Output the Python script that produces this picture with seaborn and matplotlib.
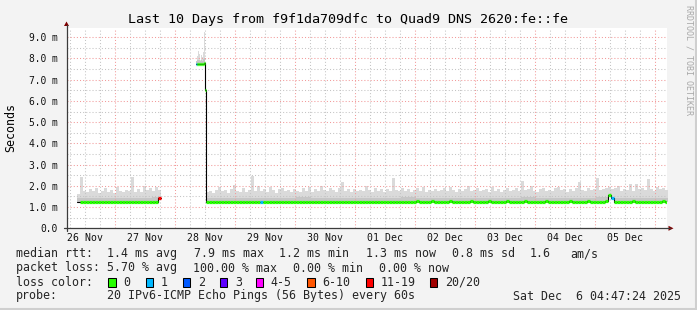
import numpy as np
import pandas as pd
import matplotlib
matplotlib.use("Agg")
import matplotlib.pyplot as plt
import seaborn as sns
from matplotlib.patches import Rectangle, Polygon
from matplotlib.lines import Line2D
from matplotlib.transforms import Affine2D

# ---------------- data ----------------
TITLE = "Last 10 Days from f9f1da709dfc to Quad9 DNS 2620:fe::fe"
Y_LABEL = "Seconds"
WATERMARK = "RRDTOOL / TOBI OETIKER"
RANGE_HOURS = 240.0                     # 10 days, start = Nov 26 04:47:24
FIRST_MIDNIGHT_H = 19.21                # hours from start to Nov 27 00:00
DAY_LABELS = ["26 Nov", "27 Nov", "28 Nov", "29 Nov", "30 Nov",
              "01 Dec", "02 Dec", "03 Dec", "04 Dec", "05 Dec"]
Y_TICKS = [0, 1, 2, 3, 4, 5, 6, 7, 8, 9]
Y_TICK_LABELS = ["0.0", "1.0 m", "2.0 m", "3.0 m", "4.0 m",
                 "5.0 m", "6.0 m", "7.0 m", "8.0 m", "9.0 m"]
Y_MAX = 9.46

LOSS_NAMES = ["0", "1", "2", "3", "4-5", "6-10", "11-19", "20/20"]
LOSS_COLORS = ["#26ff00", "#00b8ff", "#0059ff", "#5e00ff",
               "#ff00ff", "#ff5500", "#ff0000", "#a00000"]

# segment 1 : Nov 26 09:00 -> Nov 27 10:00 (bins of 1.2 h)
seg1_start, seg1_bin = 4.2, 1.2
seg1_median = [1.25, 1.25, 1.25, 1.25, 1.25, 1.25, 1.25, 1.25, 1.25, 1.25,
               1.25, 1.25, 1.25, 1.25, 1.25, 1.25, 1.25, 1.25, 1.25, 1.25,
               1.25, 1.25, 1.25, 1.25, 1.25, 1.25, 1.25, 1.45]
seg1_top = [1.62, 2.43, 1.75, 1.70, 1.85, 1.78, 1.92, 1.68, 1.74, 1.88,
            1.72, 1.80, 1.66, 1.95, 1.78, 1.70, 1.82, 1.76, 2.43, 1.73,
            1.86, 1.70, 1.98, 1.80, 1.90, 1.75, 1.94, 1.82]
seg1_loss = [-1, 0, 0, 0, 0, 0, 0, 0, 0, 0, 0, 0, 0, 0,
             0, 0, 0, 0, 0, 0, 0, 0, 0, 0, 0, 0, 0, 6]
seg1_dark_6h = [1.42, 1.44, 1.41, 1.43, 1.45, 1.46]

# segment 2 : the 7.7 ms episode on Nov 28 (bins of 0.4 h)
seg2_start, seg2_bin = 51.6, 0.4
seg2_median = [7.72, 7.72, 7.74, 7.73, 7.73, 7.75, 7.72, 7.76, 7.80, 6.52]
seg2_top = [7.80, 8.10, 8.36, 8.22, 7.95, 8.18, 8.05, 8.30, 9.24, 6.52]
seg2_dark = [7.88, 7.92, 7.95, 7.94, 7.90, 7.93, 7.90, 7.96, 8.00, 6.52]
seg2_loss = [1, 0, 0, 0, 0, 0, 0, 0, 0, 0]

# segment 3 : Nov 28 -> Dec 6 (bins of 1.2 h)
seg3_start, seg3_bin = 55.6, 1.2
seg3_median = [
    1.25, 1.25, 1.25, 1.25, 1.25, 1.25, 1.25, 1.25, 1.25, 1.25,
    1.25, 1.25, 1.25, 1.25, 1.25, 1.25, 1.25, 1.25, 1.25, 1.25,
    1.25, 1.25, 1.25, 1.25, 1.25, 1.25, 1.25, 1.25, 1.25, 1.25,
    1.25, 1.25, 1.25, 1.25, 1.25, 1.25, 1.25, 1.25, 1.25, 1.25,
    1.25, 1.25, 1.25, 1.25, 1.25, 1.25, 1.25, 1.25, 1.25, 1.25,
    1.25, 1.25, 1.25, 1.25, 1.25, 1.25, 1.25, 1.25, 1.25, 1.25,
    1.25, 1.25, 1.25, 1.25, 1.25, 1.24, 1.26, 1.25, 1.23, 1.26,
    1.27, 1.25, 1.24, 1.26, 1.25, 1.27, 1.24, 1.25, 1.26, 1.23,
    1.25, 1.27, 1.26, 1.24, 1.25, 1.23, 1.26, 1.25, 1.27, 1.24,
    1.25, 1.26, 1.23, 1.25, 1.27, 1.26, 1.24, 1.25, 1.26, 1.24,
    1.27, 1.25, 1.23, 1.26, 1.25, 1.24, 1.27, 1.25, 1.26, 1.23,
    1.25, 1.26, 1.24, 1.27, 1.25, 1.23, 1.26, 1.25, 1.24, 1.26,
    1.25, 1.27, 1.24, 1.25, 1.26, 1.23, 1.25, 1.27, 1.25, 1.24,
    1.26, 1.25, 1.24, 1.27, 1.57, 1.45, 1.26, 1.24, 1.25, 1.26,
    1.23, 1.25, 1.27, 1.24, 1.26, 1.25, 1.23, 1.26, 1.25, 1.24,
    1.26, 1.25, 1.27, 1.25]
seg3_top = [
    1.70, 1.78, 1.66, 1.82, 1.96, 1.74, 1.80, 1.68, 1.85, 2.04,
    1.76, 1.72, 1.88, 1.70, 1.82, 2.48, 1.75, 2.00, 1.78, 1.86,
    1.72, 1.95, 1.80, 1.68, 1.84, 1.90, 1.74, 1.82, 1.70, 1.86,
    1.78, 1.72, 1.88, 1.76, 1.95, 1.70, 1.84, 1.78, 2.00, 1.82,
    1.74, 1.88, 1.80, 1.72, 1.92, 2.20, 1.78, 1.84, 1.70, 1.86,
    1.76, 1.82, 1.74, 2.00, 1.80, 1.72, 1.88, 1.78, 1.84, 1.70,
    1.86, 1.78, 2.36, 1.82, 1.74, 1.90, 1.76, 1.84, 1.72, 1.80,
    1.88, 1.76, 1.95, 1.70, 1.82, 1.78, 1.86, 1.74, 1.80, 1.90,
    1.76, 1.95, 1.82, 1.72, 1.86, 1.78, 1.84, 2.00, 1.76, 1.82,
    1.88, 1.74, 1.80, 1.86, 1.72, 1.95, 1.78, 1.84, 1.70, 1.82,
    1.88, 1.76, 1.82, 1.92, 1.74, 2.22, 1.80, 1.86, 2.00, 1.78,
    1.72, 1.84, 1.90, 1.76, 1.82, 1.74, 1.88, 1.95, 1.80, 1.86,
    1.72, 1.84, 1.78, 1.90, 2.20, 1.82, 1.76, 1.88, 1.80, 1.84,
    2.36, 1.80, 1.86, 1.92, 1.95, 1.84, 1.90, 2.00, 1.78, 1.86,
    1.82, 2.07, 1.76, 2.10, 1.84, 1.90, 1.80, 2.30, 1.86, 1.78,
    1.96, 1.84, 1.90, 1.80]
seg3_loss_exceptions = {18: 1, 135: 1}
seg3_dark_6h = [1.42, 1.44, 1.41, 1.45, 1.43, 1.42, 1.46, 1.44, 1.41, 1.43,
                1.45, 1.44, 1.42, 1.46, 1.43, 1.44, 1.41, 1.45, 1.43, 1.42,
                1.44, 1.46, 1.43, 1.45, 1.42, 1.44, 1.47, 1.45, 1.43, 1.44,
                1.42]

LEGEND_RTT = [("median rtt:", 16), ("1.4 ms avg", 107.3), ("7.9 ms max", 194.3),
              ("1.2 ms min", 279.3), ("1.3 ms now", 365.7), ("0.8 ms sd", 451.7),
              ("1.6", 529.8), ("am/s", 570)]
LEGEND_LOSS = [("packet loss:", 16), ("5.70 % avg", 107.3), ("100.00 % max", 193.3),
               ("0.00 % min", 293.3), ("0.00 % now", 379.3)]
LOSS_BOX_X = [108.3, 145.7, 183.0, 219.7, 256.0, 307.3, 365.7, 430.0]
LOSS_TEXT_X = [123.3, 161.0, 197.7, 235.0, 270.7, 322.3, 380.7, 445.0]
PROBE_TEXT = "20 IPv6-ICMP Echo Pings (56 Bytes) every 60s"
DATE_TEXT = "Sat Dec  6 04:47:24 2025"

# ---------------- style ----------------
sns.set_theme(style="white")
plt.rcParams['font.family'] = ['DejaVu Sans Mono', 'DejaVu Sans']

W, H = 697, 310
BG = "#f3f3f3"
fig = plt.figure(figsize=(W / 100, H / 100), dpi=100, facecolor=BG)
PX = Affine2D().scale(1.0 / W, -1.0 / H).translate(0, 1) + fig.transFigure

X0, X1, YB, YT = 66.7, 666.7, 228.3, 27.5
ax = fig.add_axes([X0 / W, (H - YB) / H, (X1 - X0) / W, (YB - YT) / H])
ax.set_facecolor("white")
ax.set_xlim(0, RANGE_HOURS)
ax.set_ylim(0, Y_MAX)
for s in ax.spines.values():
    s.set_visible(False)

SMOKE_LIGHT = "#dadada"
SMOKE_DARK = "#c6c6c6"


def edges_of(start, width, n):
    return start + width * np.arange(n + 1)


def smoke(start, width, median, top, dark):
    med = np.asarray(median, float)
    e = edges_of(start, width, len(med))
    ax.fill_between(e, np.r_[med, med[-1]], np.r_[top, top[-1]], step="post",
                    color=SMOKE_LIGHT, lw=0, zorder=1)
    ax.fill_between(e, np.r_[med, med[-1]], np.r_[dark, dark[-1]], step="post",
                    color=SMOKE_DARK, lw=0, zorder=1.5)


seg1_dark = np.repeat(seg1_dark_6h, 5)[:len(seg1_median)]
seg3_dark = np.repeat(seg3_dark_6h, 5)[:len(seg3_median)]
seg3_loss = [seg3_loss_exceptions.get(i, 0) for i in range(len(seg3_median))]

smoke(seg1_start, seg1_bin, seg1_median, seg1_top, seg1_dark)
smoke(seg2_start, seg2_bin, seg2_median, seg2_top, seg2_dark)
smoke(seg3_start, seg3_bin, seg3_median, seg3_top, seg3_dark)

# ---------------- grid ----------------
DOT = (0, (1, 2))
MINOR_C, MAJOR_C = "#c4c4c4", "#f29a9a"
for k in range(40):
    h = FIRST_MIDNIGHT_H - 18 + 6 * k
    if 0 < h < RANGE_HOURS:
        major = abs(((h - FIRST_MIDNIGHT_H) / 24) - round((h - FIRST_MIDNIGHT_H) / 24)) < 1e-6
        ax.axvline(h, color=MAJOR_C if major else MINOR_C, lw=0.75, ls=DOT, zorder=2)
for k in range(1, 19):
    v = 0.5 * k
    major = (k % 2 == 0)
    ax.axhline(v, color=MAJOR_C if major else MINOR_C, lw=0.75, ls=DOT, zorder=2)

# ---------------- median lines ----------------
def median_frame(parts):
    xs, ys = [], []
    for start, width, med in parts:
        e = edges_of(start, width, len(med))
        xs.extend(e[:-1])
        ys.extend(med)
    xs.append(e[-1])
    ys.append(med[-1])
    return pd.DataFrame({"hour": xs, "rtt": ys})


for parts in ([(seg1_start, seg1_bin, seg1_median)],
              [(seg2_start, seg2_bin, seg2_median), (seg3_start, seg3_bin, seg3_median)]):
    df = median_frame(parts)
    sns.lineplot(data=df, x="hour", y="rtt", ax=ax, estimator=None, sort=False,
                 drawstyle="steps-post", color="black", lw=0.8, legend=False, zorder=3)

for start, width, med, loss in ((seg1_start, seg1_bin, seg1_median, seg1_loss),
                                (seg2_start, seg2_bin, seg2_median, seg2_loss),
                                (seg3_start, seg3_bin, seg3_median, seg3_loss)):
    e = edges_of(start, width, len(med))
    for i, (m, l) in enumerate(zip(med, loss)):
        if l < 0:
            continue
        ax.hlines(m, e[i], e[i + 1], colors=LOSS_COLORS[l], lw=2.3, zorder=4)

ax.set_xlabel("")
ax.set_ylabel("")

# ---------------- ticks ----------------
noon = [FIRST_MIDNIGHT_H - 12 + 24 * k for k in range(len(DAY_LABELS))]
ax.set_xticks(noon)
ax.set_xticklabels(DAY_LABELS, fontsize=7.1, color="#111111")
ax.set_yticks(Y_TICKS)
ax.set_yticklabels(Y_TICK_LABELS, fontsize=6.9, color="#111111")
ax.tick_params(axis="x", length=0, pad=3.6)
ax.tick_params(axis="y", length=0, pad=6.4)

# ---------------- axes lines + arrows ----------------
AX_C, ARROW_C = "#3c3c3c", "#7f0000"
fig.add_artist(Line2D([66.5, 66.5], [230.5, 24.5], transform=PX, color=AX_C, lw=0.9))
fig.add_artist(Line2D([63.5, 669.5], [228.3, 228.3], transform=PX, color=AX_C, lw=0.9))
fig.add_artist(Polygon([(64.0, 26.0), (69.0, 26.0), (66.5, 21.5)], closed=True,
                       transform=PX, color=ARROW_C, lw=0))
fig.add_artist(Polygon([(668.5, 225.8), (668.5, 230.8), (673.5, 228.3)], closed=True,
                       transform=PX, color=ARROW_C, lw=0))

# ---------------- texts ----------------
fig.text(348.5, 23.3, TITLE, transform=PX, ha="center", va="baseline",
         fontsize=9.6, color="black")
fig.text(10.5, 127.9, Y_LABEL, transform=PX, ha="center", va="center",
         rotation=90, fontsize=8.4, color="black")
fig.text(689.5, 5, WATERMARK, transform=PX, ha="center", va="top",
         rotation=270, fontsize=6.0, color="#a8a8a8")

LFS = 8.37
for txt, x in LEGEND_RTT:
    fig.text(x, 257.4, txt, transform=PX, ha="left", va="baseline", fontsize=LFS)
for txt, x in LEGEND_LOSS:
    fig.text(x, 271.5, txt, transform=PX, ha="left", va="baseline", fontsize=LFS)
fig.text(16, 285.6, "loss color:", transform=PX, ha="left", va="baseline", fontsize=LFS)
for bx, tx, name, col in zip(LOSS_BOX_X, LOSS_TEXT_X, LOSS_NAMES, LOSS_COLORS):
    fig.add_artist(Rectangle((bx, 277.5), 7.4, 9.6, transform=PX, facecolor=col,
                             edgecolor="black", lw=0.75))
    fig.text(tx, 285.6, name, transform=PX, ha="left", va="baseline", fontsize=LFS)
fig.text(16, 299.5, "probe:", transform=PX, ha="left", va="baseline", fontsize=LFS)
fig.text(107.3, 299.5, PROBE_TEXT, transform=PX, ha="left", va="baseline", fontsize=LFS)
fig.text(513, 299.5, DATE_TEXT, transform=PX, ha="left", va="baseline", fontsize=LFS)

# frame shading (right / bottom)
fig.add_artist(Line2D([696, 696], [0, 310], transform=PX, color="#cfcfcf", lw=1.5))
fig.add_artist(Line2D([0, 697], [309, 309], transform=PX, color="#cfcfcf", lw=1.5))

fig.savefig("out.png", dpi=100, facecolor=BG)
